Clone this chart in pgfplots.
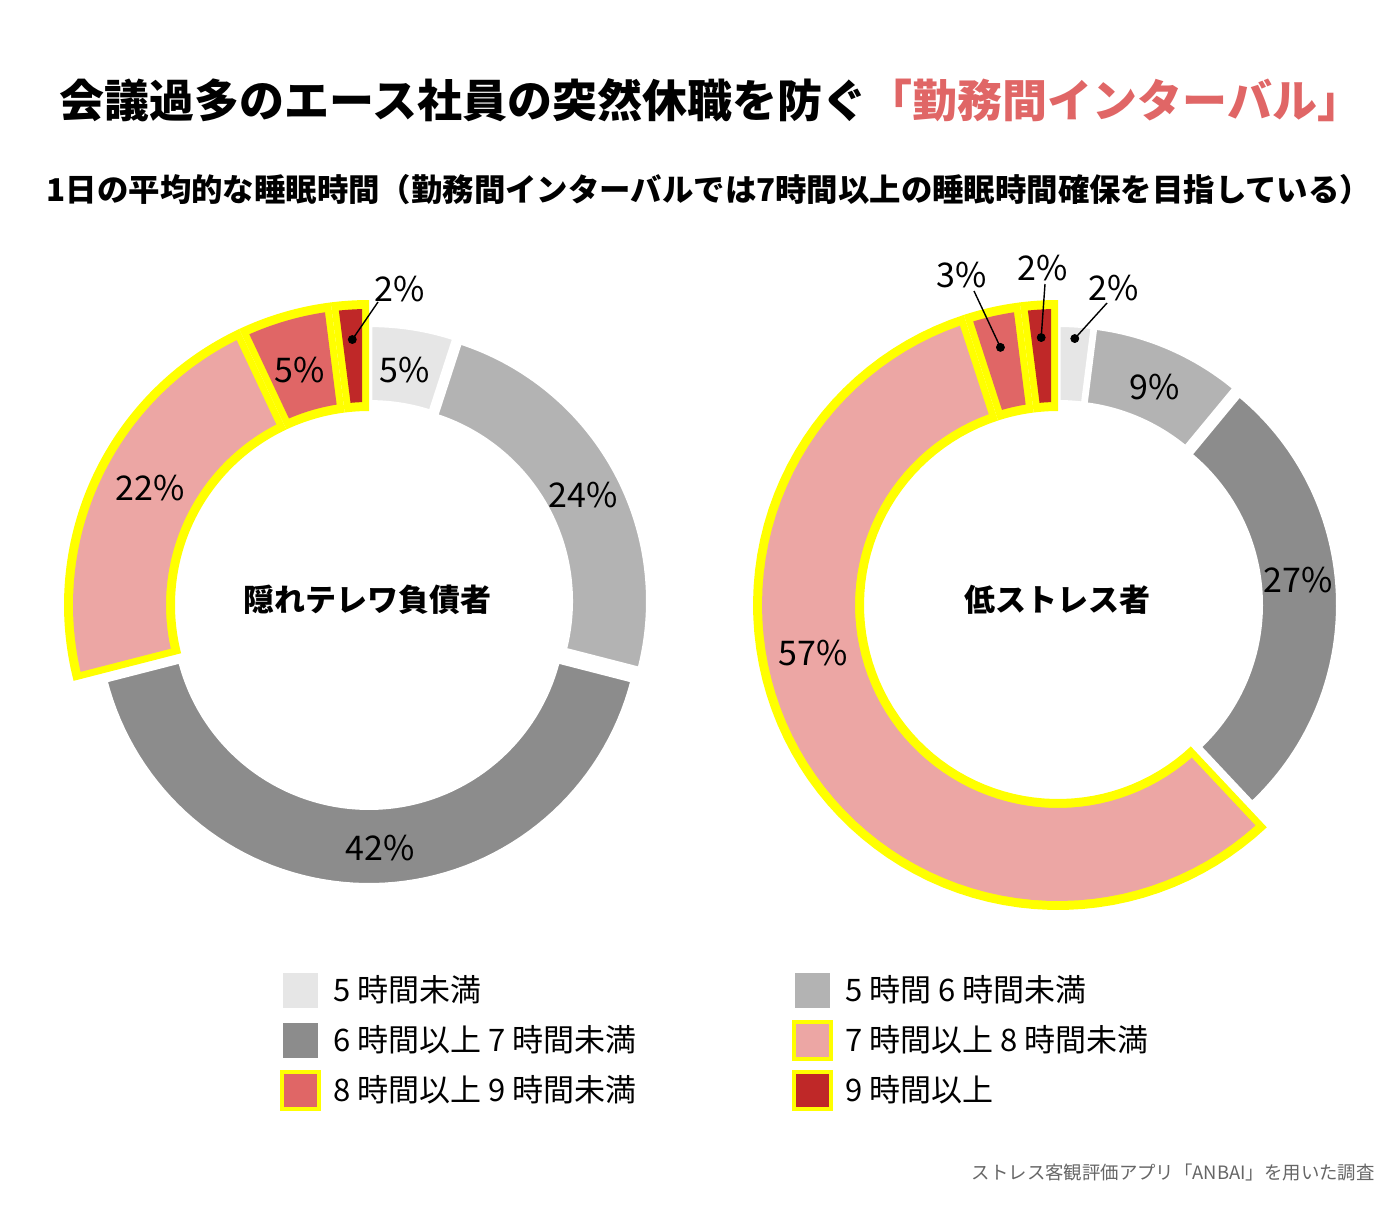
\documentclass[border=0pt]{standalone}
\usepackage{pgfplots}
\pgfplotsset{compat=1.18}
\usepackage{pgfplotstable}
\usepackage{fontspec}
\setmainfont{Noto Sans CJK JP}

\definecolor{c1}{HTML}{E6E6E6}
\definecolor{c2}{HTML}{B3B3B3}
\definecolor{c3}{HTML}{8C8C8C}
\definecolor{c4}{HTML}{ECA6A4}
\definecolor{c5}{HTML}{E06666}
\definecolor{c6}{HTML}{BF2828}
\definecolor{hl}{HTML}{FFFF00}
\definecolor{titlered}{HTML}{E06666}
\definecolor{srcgray}{HTML}{666666}

% cumulative angles (clockwise from 12 o'clock)
\newcommand\prep[2]{%
  \def\acc{0}%
  \pgfplotsforeachungrouped \i in {0,...,5}{%
    \pgfplotstablegetelem{\i}{pct}\of{#1}%
    \pgfmathsetmacro\sa{90-3.6*\acc}%
    \pgfmathsetmacro\acc{\acc+\pgfplotsretval}%
    \pgfmathsetmacro\ea{90-3.6*\acc}%
    \expandafter\xdef\csname #2s\i\endcsname{\sa}%
    \expandafter\xdef\csname #2e\i\endcsname{\ea}%
  }%
}

% gray segment: prefix, idx, cx, cy, color
\newcommand\gseg[5]{%
  \pgfmathsetmacro\sa{\csname #1s#2\endcsname}%
  \pgfmathsetmacro\ea{\csname #1e#2\endcsname}%
  \pgfmathsetmacro\ma{(\sa+\ea)/2}%
  \pgfmathsetmacro\ox{#3+8*cos(\ma)}%
  \pgfmathsetmacro\oy{#4-8*sin(\ma)}%
  \edef\tmp{\noexpand\filldraw[fill=#5, draw=white, line width=2pt, line join=miter]
    plot[domain=\sa:\ea, samples=70, variable=\noexpand\t] ({\ox+272*cos(\noexpand\t)},{\oy-272*sin(\noexpand\t)})
    -- plot[domain=\ea:\sa, samples=70, variable=\noexpand\t] ({\ox+195*cos(\noexpand\t)},{\oy-195*sin(\noexpand\t)}) -- cycle;}%
  \tmp
}

% highlighted segment: prefix, idx, cx, cy, color
\newcommand\hseg[5]{%
  \pgfmathsetmacro\sa{\csname #1s#2\endcsname}%
  \pgfmathsetmacro\ea{\csname #1e#2\endcsname}%
  \pgfmathsetmacro\ox{#3}%
  \pgfmathsetmacro\oy{#4}%
  \pgfmathsetmacro\so{\sa-7/296*57.2958}%
  \pgfmathsetmacro\eo{\ea+7/296*57.2958}%
  \pgfmathsetmacro\si{\sa-7/203*57.2958}%
  \pgfmathsetmacro\ei{\ea+7/203*57.2958}%
  \edef\tmp{\noexpand\fill[hl]
    plot[domain=\sa:\ea, samples=70, variable=\noexpand\t] ({\ox+305*cos(\noexpand\t)},{\oy-305*sin(\noexpand\t)})
    -- plot[domain=\ea:\sa, samples=70, variable=\noexpand\t] ({\ox+194*cos(\noexpand\t)},{\oy-194*sin(\noexpand\t)}) -- cycle;
    \noexpand\fill[#5]
    plot[domain=\so:\eo, samples=70, variable=\noexpand\t] ({\ox+296*cos(\noexpand\t)},{\oy-296*sin(\noexpand\t)})
    -- plot[domain=\ei:\si, samples=70, variable=\noexpand\t] ({\ox+203*cos(\noexpand\t)},{\oy-203*sin(\noexpand\t)}) -- cycle;}%
  \tmp
}

% dot + leader: prefix, idx, cx, cy, offset, radius, end point
\newcommand\leader[7]{%
  \pgfmathsetmacro\sa{\csname #1s#2\endcsname}%
  \pgfmathsetmacro\ea{\csname #1e#2\endcsname}%
  \pgfmathsetmacro\ma{(\sa+\ea)/2}%
  \pgfmathsetmacro\dx{#3+(#5+#6)*cos(\ma)}%
  \pgfmathsetmacro\dy{#4-(#5+#6)*sin(\ma)}%
  \edef\tmp{\noexpand\draw[black, line width=0.7pt] (\dx,\dy) -- (#7);
    \noexpand\addplot[only marks, mark=*, mark size=2pt, black] coordinates {(\dx,\dy)};}%
  \tmp
}

\pgfplotstableread{
pct
5
24
42
22
5
2
}\dataL

\pgfplotstableread{
pct
2
9
27
57
3
2
}\dataR

\begin{document}
\prep{\dataL}{L}%
\prep{\dataR}{R}%
\begin{tikzpicture}
\begin{axis}[
  scale only axis, width=695pt, height=610pt,
  xmin=0, xmax=1390, ymin=0, ymax=1220, y dir=reverse,
  hide axis, clip=false,
]
\path (0,0) rectangle (1390,1220);

% titles
\node[font=\fontsize{22.5pt}{27pt}\selectfont\bfseries] at (711,100)
  {会議過多のエース社員の突然休職を防ぐ\textcolor{titlered}{「勤務間インターバル」}};
\node[font=\fontsize{15.7pt}{19pt}\selectfont\bfseries] at (709,190)
  {1日の平均的な睡眠時間（勤務間インターバルでは7時間以上の睡眠時間確保を目指している）};

% left donut
\gseg{L}{0}{369}{605}{c1}
\gseg{L}{1}{369}{605}{c2}
\gseg{L}{2}{369}{605}{c3}
\hseg{L}{3}{369}{605}{c4}
\hseg{L}{4}{369}{605}{c5}
\hseg{L}{5}{369}{605}{c6}

% right donut
\gseg{R}{0}{1058}{605}{c1}
\gseg{R}{1}{1058}{605}{c2}
\gseg{R}{2}{1058}{605}{c3}
\hseg{R}{3}{1058}{605}{c4}
\hseg{R}{4}{1058}{605}{c5}
\hseg{R}{5}{1058}{605}{c6}

% leaders
\leader{L}{5}{369}{605}{0}{266}{378,302}
\leader{R}{4}{1058}{605}{0}{264}{974,291}
\leader{R}{5}{1058}{605}{0}{268}{1045,284}
\leader{R}{0}{1058}{605}{8}{259}{1107,303}

% centre labels
\node[font=\fontsize{15.5pt}{18pt}\selectfont\bfseries] at (367,600) {隠れテレワ負債者};
\node[font=\fontsize{15.5pt}{18pt}\selectfont\bfseries] at (1057,600) {低ストレス者};

% percentage labels
\begin{scope}[every node/.style={font=\fontsize{17pt}{20pt}\selectfont}]
\node at (405,370) {5\%};
\node at (583,495) {24\%};
\node at (380,848) {42\%};
\node at (150,488) {22\%};
\node at (300,370) {5\%};
\node at (400,289) {2\%};
\node at (1114,288) {2\%};
\node at (1155,387) {9\%};
\node at (1298,580) {27\%};
\node at (813,653) {57\%};
\node at (962,275) {3\%};
\node at (1043,268) {2\%};
\end{scope}

% legend
\begin{scope}[every node/.style={font=\fontsize{15.5pt}{18pt}\selectfont}]
\node[fill=c1, minimum size=17.5pt, inner sep=0pt] at (300,990) {};
\node[anchor=west, inner sep=0pt] at (333,990) {5 時間未満};
\node[fill=c3, minimum size=17.5pt, inner sep=0pt] at (300,1040) {};
\node[anchor=west, inner sep=0pt] at (333,1040) {6 時間以上 7 時間未満};
\node[fill=c5, draw=hl, line width=2pt, minimum size=18.5pt, inner sep=0pt] at (300,1090) {};
\node[anchor=west, inner sep=0pt] at (333,1090) {8 時間以上 9 時間未満};
\node[fill=c2, minimum size=17.5pt, inner sep=0pt] at (812,990) {};
\node[anchor=west, inner sep=0pt] at (845,990) {5 時間 6 時間未満};
\node[fill=c4, draw=hl, line width=2pt, minimum size=18.5pt, inner sep=0pt] at (812,1040) {};
\node[anchor=west, inner sep=0pt] at (845,1040) {7 時間以上 8 時間未満};
\node[fill=c6, draw=hl, line width=2pt, minimum size=18.5pt, inner sep=0pt] at (812,1090) {};
\node[anchor=west, inner sep=0pt] at (845,1090) {9 時間以上};
\end{scope}

% source
\node[anchor=east, inner sep=0pt, text=srcgray, font=\fontsize{9.2pt}{11pt}\selectfont] at (1375,1172)
  {ストレス客観評価アプリ「ANBAI」を用いた調査};
\end{axis}
\end{tikzpicture}
\end{document}
